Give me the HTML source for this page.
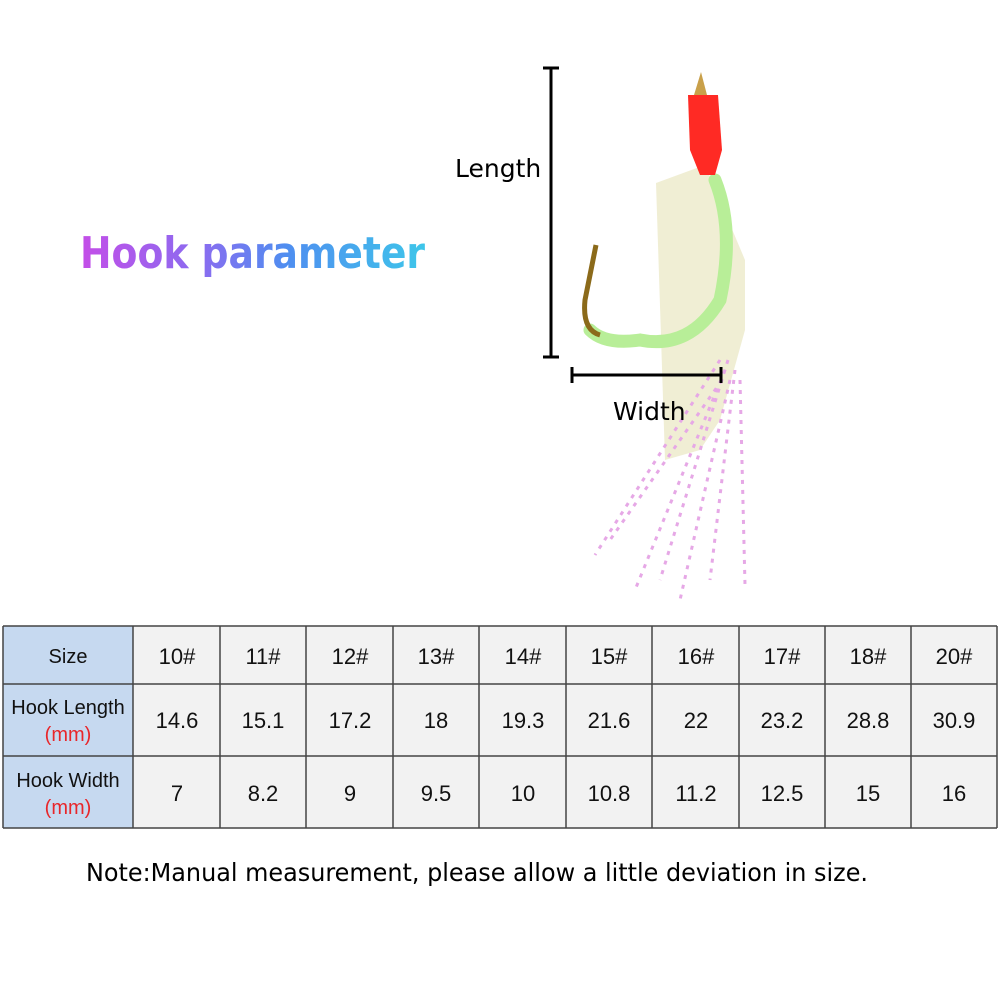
<!DOCTYPE html>
<html><head><meta charset="utf-8"><style>
body{margin:0;background:#fff;width:1000px;height:1000px;overflow:hidden}
svg{display:block}
</style></head><body>
<svg width="1000" height="1000" xmlns="http://www.w3.org/2000/svg" font-family="Liberation Sans, DejaVu Sans, sans-serif">
<defs>
<linearGradient id="tg" x1="80" y1="0" x2="425" y2="0" gradientUnits="userSpaceOnUse">
<stop offset="0" stop-color="#c44ee8"/><stop offset="0.35" stop-color="#8a6cf0"/><stop offset="0.6" stop-color="#4f8ef0"/><stop offset="1" stop-color="#3ec6ea"/>
</linearGradient>
</defs>
<text x="80" y="268" font-size="44" font-weight="bold" font-family="DejaVu Sans, sans-serif" fill="url(#tg)" textLength="345" lengthAdjust="spacingAndGlyphs">Hook parameter</text>

<path d="M656 183 L705 165 L745 260 L745 330 L720 420 L700 450 L665 460 Z" fill="#eeeccf" opacity="0.9"/>
<g stroke="#e6a8e6" stroke-width="3" stroke-dasharray="4 6" fill="none">
<path d="M720 360 L595 555"/><path d="M725 370 L635 590"/><path d="M730 380 L680 600"/><path d="M735 370 L710 580"/><path d="M740 380 L745 585"/><path d="M728 360 L660 580"/><path d="M722 380 L610 540"/>
</g>
<path d="M715 180 Q735 230 720 300 Q690 350 640 340 Q605 345 590 330" stroke="#b8ee98" stroke-width="13" fill="none" stroke-linecap="round"/>
<path d="M596 245 L585 300 Q582 330 600 335" stroke="#8b6a1a" stroke-width="5" fill="none"/>
<path d="M688 95 L718 95 L722 150 L715 175 L700 175 L690 150 Z" fill="#ff2a24"/>
<path d="M694 95 L701 72 L707 95 Z" fill="#c9a04a"/>

<g stroke="#000" stroke-width="3">
<line x1="551" y1="68" x2="551" y2="358"/><line x1="543" y1="68" x2="559" y2="68"/><line x1="543" y1="357" x2="559" y2="357"/>
<line x1="571" y1="375" x2="722" y2="375"/><line x1="572" y1="367" x2="572" y2="383"/><line x1="721" y1="367" x2="721" y2="383"/>
</g>
<text x="455" y="177" font-size="25" font-family="DejaVu Sans, sans-serif" fill="#000">Length</text>
<text x="613" y="420" font-size="25" font-family="DejaVu Sans, sans-serif" fill="#000">Width</text>

<rect x="3" y="626" width="994" height="202" fill="#f2f2f2"/>
<rect x="3" y="626" width="130" height="202" fill="#c6d9f0"/>
<g stroke="#444" stroke-width="1.5">
<line x1="3" y1="626" x2="997" y2="626"/><line x1="3" y1="684" x2="997" y2="684"/><line x1="3" y1="756" x2="997" y2="756"/><line x1="3" y1="828" x2="997" y2="828"/>
<line x1="3" y1="626" x2="3" y2="828"/><line x1="133" y1="626" x2="133" y2="828"/><line x1="220" y1="626" x2="220" y2="828"/><line x1="306" y1="626" x2="306" y2="828"/><line x1="393" y1="626" x2="393" y2="828"/><line x1="479" y1="626" x2="479" y2="828"/><line x1="566" y1="626" x2="566" y2="828"/><line x1="652" y1="626" x2="652" y2="828"/><line x1="739" y1="626" x2="739" y2="828"/><line x1="825" y1="626" x2="825" y2="828"/><line x1="911" y1="626" x2="911" y2="828"/><line x1="997" y1="626" x2="997" y2="828"/>
</g>
<g font-size="20" fill="#111" text-anchor="middle">
<text x="68" y="663">Size</text>
<text x="68" y="714">Hook Length</text><text x="68" y="741" fill="#e8262a">(mm)</text>
<text x="68" y="787">Hook Width</text><text x="68" y="814" fill="#e8262a">(mm)</text>
</g>
<g font-size="22" fill="#111" text-anchor="middle">
<text x="177" y="664">10#</text><text x="263" y="664">11#</text><text x="350" y="664">12#</text><text x="436" y="664">13#</text><text x="523" y="664">14#</text><text x="609" y="664">15#</text><text x="696" y="664">16#</text><text x="782" y="664">17#</text><text x="868" y="664">18#</text><text x="954" y="664">20#</text>
<text x="177" y="728">14.6</text><text x="263" y="728">15.1</text><text x="350" y="728">17.2</text><text x="436" y="728">18</text><text x="523" y="728">19.3</text><text x="609" y="728">21.6</text><text x="696" y="728">22</text><text x="782" y="728">23.2</text><text x="868" y="728">28.8</text><text x="954" y="728">30.9</text>
<text x="177" y="801">7</text><text x="263" y="801">8.2</text><text x="350" y="801">9</text><text x="436" y="801">9.5</text><text x="523" y="801">10</text><text x="609" y="801">10.8</text><text x="696" y="801">11.2</text><text x="782" y="801">12.5</text><text x="868" y="801">15</text><text x="954" y="801">16</text>
</g>
<text x="86" y="881" font-size="25" font-family="DejaVu Sans, sans-serif" fill="#000" textLength="782" lengthAdjust="spacingAndGlyphs">Note:Manual measurement, please allow a little deviation in size.</text>
</svg>
</body></html>
